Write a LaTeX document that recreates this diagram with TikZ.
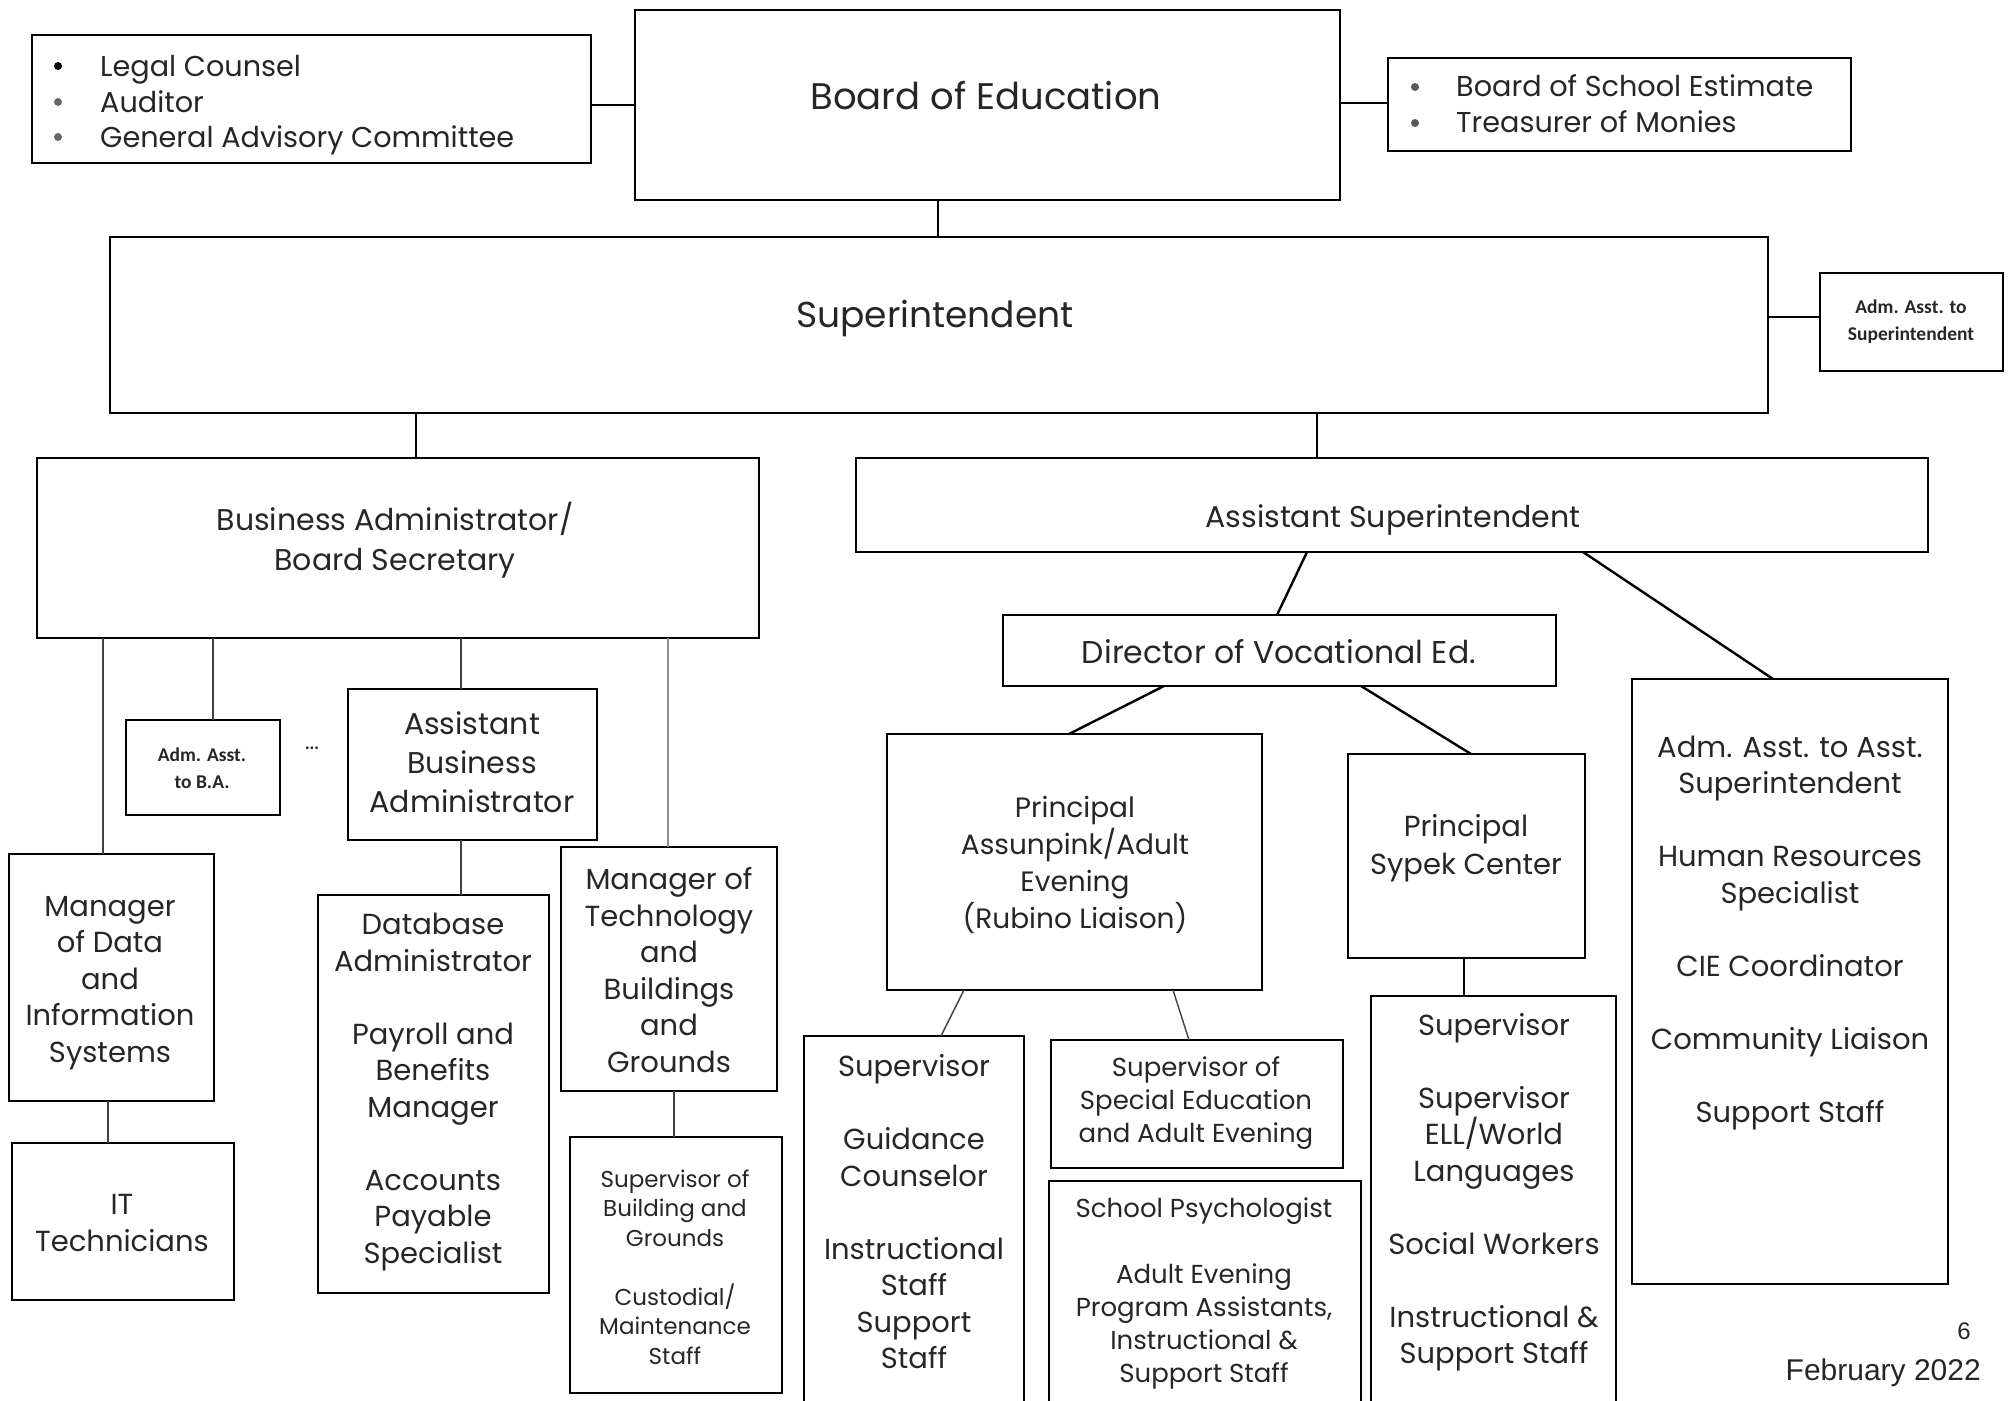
\documentclass[tikz,border=0pt]{standalone}
\usepackage{fontspec}
\setmainfont{Poppins}
\newfontfamily\carlitofont{Carlito}
\newfontfamily\arialfont{Liberation Sans}
\usetikzlibrary{calc}
\newcommand{\bx}[5]{\node[box,minimum width={#4-#2},minimum height={#5-#3}] (#1) at ({(#2+#4)/2},{(#3+#5)/2}) {};}
\begin{document}
\begin{tikzpicture}[x=1pt,y=-1pt,
  box/.style={draw,line width=2.2pt,inner sep=0pt,outer sep=0pt},
  link/.style={line width=2.4pt},
  thin/.style={line width=1.4pt,black!75},
  txt/.style={align=center,inner sep=0pt,text=black!85},
  body/.style={txt,font=\fontsize{29}{36.5}\selectfont},
  big/.style={txt,font=\fontsize{37}{44}\selectfont},
  mid/.style={txt,font=\fontsize{30}{40}\selectfont},
  med/.style={txt,font=\fontsize{26}{33}\selectfont},
  sml/.style={txt,font=\fontsize{23}{29.5}\selectfont},
  calb/.style={txt,font=\carlitofont\bfseries\fontsize{19.5}{27}\selectfont},
  lst/.style={anchor=base west,inner sep=0pt,text=black!85,font=\fontsize{28.7}{34}\selectfont},
  bul/.style={circle,fill,inner sep=0pt,minimum size=8pt}]
\useasboundingbox (0,0) rectangle (2013,1400);
% boxes
\bx{legal}{32}{35}{591}{163}
\bx{board}{635}{10}{1340}{200}
\bx{bse}{1388}{58}{1851}{151}
\bx{sup}{110}{237}{1768}{413}
\bx{aas}{1820}{273}{2003}{371}
\bx{ba}{37}{458}{759}{638}
\bx{asup}{856}{458}{1928}{552}
\bx{dir}{1003}{615}{1556}{686}
\bx{aaas}{1632}{679}{1948}{1284}
\bx{pa}{887}{734}{1262}{990}
\bx{ps}{1348}{754}{1585}{958}
\bx{svr}{1371}{996}{1616}{1410}
\bx{svl}{804}{1036}{1024}{1410}
\bx{sse}{1051}{1040}{1343}{1168}
\bx{spsy}{1049}{1181}{1361}{1410}
\bx{aba}{126}{720}{280}{815}
\bx{abadm}{348}{689}{597}{840}
\bx{db}{318}{895}{549}{1293}
\bx{mdis}{9}{854}{214}{1101}
\bx{it}{12}{1143}{234}{1300}
\bx{mot}{561}{847}{777}{1091}
\bx{sbg}{570}{1137}{782}{1393}
% connectors
\draw[link] ($(legal.north east)+(0,70)$) -- ($(board.north west)+(0,95)$);
\draw[link] ($(board.north east)+(0,93)$) -- ($(bse.north west)+(0,45)$);
\draw[link] ($(board.south west)+(303,0)$) -- ($(sup.north west)+(828,0)$);
\draw[link] ($(sup.north east)+(0,80)$) -- ($(aas.north west)+(0,44)$);
\draw[link] ($(sup.south west)+(306,0)$) -- ($(ba.north west)+(379,0)$);
\draw[link] ($(sup.south west)+(1207,0)$) -- ($(asup.north west)+(461,0)$);
\draw[link] ($(asup.south west)+(451,0)$) -- ($(dir.north west)+(274,0)$);
\draw[link] ($(asup.south west)+(727,0)$) -- ($(aaas.north west)+(141,0)$);
\draw[link] ($(dir.south west)+(161,0)$) -- ($(pa.north west)+(182,0)$);
\draw[link] ($(dir.south west)+(358,0)$) -- ($(ps.north west)+(123,0)$);
\draw[link] ($(ps.south west)+(116,0)$) -- ($(svr.north west)+(93,0)$);
\draw[thin] ($(pa.south west)+(77,0)$) -- ($(svl.north west)+(137,0)$);
\draw[thin] ($(pa.south west)+(286,0)$) -- ($(sse.north west)+(138,0)$);
\draw[thin] ($(ba.south west)+(66,0)$) -- ($(mdis.north west)+(94,0)$);
\draw[thin] ($(ba.south west)+(176,0)$) -- ($(aba.north west)+(87,0)$);
\draw[thin] ($(ba.south west)+(424,0)$) -- ($(abadm.north west)+(113,0)$);
\draw[thin,black!45] ($(ba.south west)+(631,0)$) -- ($(mot.north west)+(107,0)$);
\draw[thin] ($(abadm.south west)+(113,0)$) -- ($(db.north west)+(143,0)$);
\draw[thin] ($(mdis.south west)+(99,0)$) -- ($(it.north west)+(96,0)$);
\draw[thin] ($(mot.south west)+(113,0)$) -- ($(sbg.north west)+(104,0)$);
% list texts
\node[bul] (b1) at (58,66) {};
\node[bul,black!60] (b2) at (58,102) {};
\node[bul,black!60] (b3) at (58,137) {};
\node[lst] (t1) at (100,76) {Legal Counsel};
\node[lst] (t2) at (100,112) {Auditor};
\node[lst] (t3) at (100,147) {General Advisory Committee};
\node[bul,black!65] (b4) at (1415,87) {};
\node[bul,black!65] (b5) at (1415,123) {};
\node[lst] (t4) at (1456,96) {Board of School Estimate};
\node[lst] (t5) at (1456,132) {Treasurer of Monies};
% titles
\node[big] (tboard) at (986,96) {Board of Education};
\node[big,font=\fontsize{36}{44}\selectfont] (tsup) at (935,318) {Superintendent};
\node[calb] (taas) at (1911,322) {Adm. Asst. to\\Superintendent};
\node[mid] (tba) at (395,540) {Business Administrator/\\Board Secretary};
\node[mid] (tasup) at (1393,520) {Assistant Superintendent};
\node[mid,font=\fontsize{31.5}{40}\selectfont] (tdir) at (1279,652) {Director of Vocational Ed.};
\node[body] (taaas) at (1790,933) {Adm. Asst. to Asst.\\Superintendent\\[36.5pt]Human Resources\\Specialist\\[36.5pt]CIE Coordinator\\[36.5pt]Community Liaison\\[36.5pt]Support Staff};
\node[body,font=\fontsize{28}{37}\selectfont] (tpa) at (1075,865) {Principal\\Assunpink/Adult\\Evening\\(Rubino Liaison)};
\node[body,font=\fontsize{29}{38.5}\selectfont] (tps) at (1466,848) {Principal\\Sypek Center};
\node[body] (tsvr) at (1494,1192) {Supervisor\\[36.5pt]Supervisor\\ELL/World\\Languages\\[36.5pt]Social Workers\\[36.5pt]Instructional \&\\Support Staff};
\node[body] (tsvl) at (914,1212) {Supervisor\\[36.5pt]Guidance\\Counselor\\[36.5pt]Instructional\\Staff\\Support\\Staff};
\node[med] (tsse) at (1196,1103) {Supervisor of\\Special Education\\and Adult Evening};
\node[med] (tspsy) at (1204,1293) {School Psychologist\\[33pt]Adult Evening\\Program Assistants,\\Instructional \&\\Support Staff};
\node[calb] (taba) at (202,768) {Adm. Asst.\\to B.A.};
\node[txt,font=\fontsize{22}{22}\selectfont] (dots) at (312,748) {...};
\node[mid,font=\fontsize{30}{39}\selectfont] (tabadm) at (472,762) {Assistant\\Business\\Administrator};
\node[body] (tdb) at (433,1092) {Database\\Administrator\\[36.5pt]Payroll and\\Benefits\\Manager\\[36.5pt]Accounts\\Payable\\Specialist};
\node[body] (tmdis) at (110,983) {Manager\\of Data\\and\\Information\\Systems};
\node[body] (tit) at (122,1223) {IT\\Technicians};
\node[body] (tmot) at (669,970) {Manager of\\Technology\\and\\Buildings\\and\\Grounds};
\node[sml] (tsbg) at (675,1267) {Supervisor of\\Building and\\Grounds\\[29.5pt]Custodial/\\Maintenance\\Staff};
\node[txt,font=\arialfont\fontsize{24}{28}\selectfont] (pg) at (1964,1331) {6};
\node[txt,anchor=east,font=\arialfont\fontsize{30}{34}\selectfont] (date) at (1981,1373) {February 2022};
\end{tikzpicture}
\end{document}
